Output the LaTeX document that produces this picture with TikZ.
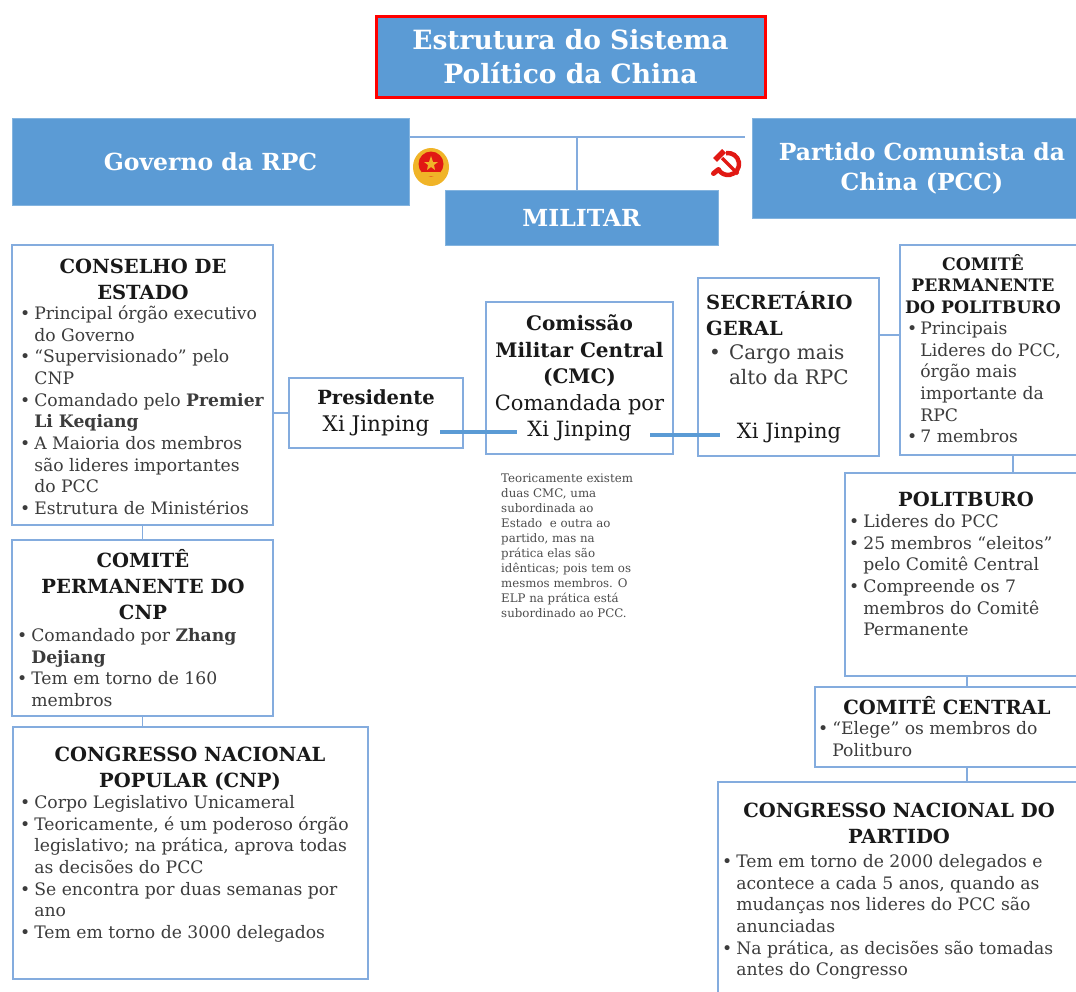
\documentclass[tikz,border=0pt]{standalone}
\usepackage{fontspec}
\setmainfont{DejaVu Serif}
\usetikzlibrary{positioning, calc}
\definecolor{bluecolor}{RGB}{91,155,213}
\definecolor{edgecolor}{RGB}{132,172,222}
\definecolor{flagred}{RGB}{225,25,20}
\definecolor{flaggold}{RGB}{240,180,40}
\definecolor{inkcolor}{RGB}{25,25,25}
\definecolor{bodycolor}{RGB}{60,60,60}

\begin{document}
\begin{tikzpicture}[
    x=1pt, y=-1pt,
    titlebox/.style={draw=red, line width=3pt, fill=bluecolor, text=white, font=\bfseries\fontsize{26.5}{34}\selectfont, align=center},
    headbox/.style={draw=bluecolor!75!white, line width=1pt, fill=bluecolor, text=white, font=\bfseries\fontsize{23.5}{30}\selectfont, align=center},
    panel/.style={draw=edgecolor, line width=1.8pt, fill=white, text=inkcolor, font=\fontsize{21.5}{27}\selectfont, align=center},
    heading/.style={anchor=north, inner sep=0pt, text=inkcolor, font=\bfseries\fontsize{19.5}{26}\selectfont, align=center},
    items/.style={anchor=north west, inner sep=0pt, text=bodycolor, font=\fontsize{17.2}{21.7}\selectfont},
    note/.style={anchor=north west, inner sep=0pt, text=black!70, font=\fontsize{11.8}{15}\selectfont, align=left},
    link/.style={draw=edgecolor, line width=1.5pt},
    bond/.style={draw=bluecolor, line width=3.5pt}
]
    \useasboundingbox (0,0) rectangle (1076,991);

    % Title
    \node[titlebox, minimum width=389pt, minimum height=81pt] (title) at (570.5,56.5) {Estrutura do Sistema\\Político da China};

    % Branches
    \node[headbox, minimum width=397pt, minimum height=87pt] (governo) at (210.5,161.5) {Governo da RPC};
    \node[headbox, minimum width=340pt, minimum height=100pt] (partido) at (922,168) {Partido Comunista da\\China (PCC)};
    \node[headbox, minimum width=273pt, minimum height=55pt] (militar) at (581.5,217.5) {MILITAR};

    % Emblems
    \begin{scope}[shift={(431,167)}, yscale=-1]
        \fill[flaggold] (0,0) ellipse (18 and 19);
        \fill[flagred] (0,3) circle (12.5);
        \fill[flaggold] (0,11) -- (-2,5) -- (-7,5) -- (-3,2) -- (-4,-3) -- (0,0) -- (4,-3) -- (3,2) -- (7,5) -- (2,5) -- cycle;
        \fill[flaggold] (-9,-9) rectangle (9,-5);
    \end{scope}
    \begin{scope}[shift={(728,164)}, yscale=-1]
        \draw[flagred, line width=4.5pt] (100:11) arc[start angle=100, end angle=-150, radius=11];
        \draw[flagred, line width=5pt, line cap=round] (-150:11) -- ++(-5,-4);
        \draw[flagred, line width=3.5pt] (-6,6) -- (10,-10);
        \draw[flagred, line width=5.5pt] (-13,4) -- (-4,13);
    \end{scope}

    % Government
    \node[panel, minimum width=261pt, minimum height=280pt] (conselho) at (142.5,385) {};
    \node[heading] (conselho-head) at (143,259) {CONSELHO DE\\ESTADO};
    \node[items] (conselho-items) at (20,304) {\begin{tabular}{@{}l@{\hspace{4pt}}l@{}}
        • & Principal órgão executivo\\
          & do Governo\\
        • & “Supervisionado” pelo\\
          & CNP\\
        • & Comandado pelo \textbf{Premier}\\
          & \textbf{Li Keqiang}\\
        • & A Maioria dos membros\\
          & são lideres importantes\\
          & do PCC\\
        • & Estrutura de Ministérios
    \end{tabular}};

    \node[panel, minimum width=261pt, minimum height=176pt] (comite-cnp) at (142.5,628) {};
    \node[heading] (comite-cnp-head) at (143,549) {COMITÊ\\PERMANENTE DO\\CNP};
    \node[items] (comite-cnp-items) at (17,626) {\begin{tabular}{@{}l@{\hspace{4pt}}l@{}}
        • & Comandado por \textbf{Zhang}\\
          & \textbf{Dejiang}\\
        • & Tem em torno de 160\\
          & membros
    \end{tabular}};

    \node[panel, minimum width=355pt, minimum height=252pt] (cnp) at (190.5,853) {};
    \node[heading] (cnp-head) at (190,747) {CONGRESSO NACIONAL\\POPULAR (CNP)};
    \node[items] (cnp-items) at (20,793) {\begin{tabular}{@{}l@{\hspace{4pt}}l@{}}
        • & Corpo Legislativo Unicameral\\
        • & Teoricamente, é um poderoso órgão\\
          & legislativo; na prática, aprova todas\\
          & as decisões do PCC\\
        • & Se encontra por duas semanas por\\
          & ano\\
        • & Tem em torno de 3000 delegados
    \end{tabular}};

    \node[panel, minimum width=174pt, minimum height=70pt] (presidente) at (376,413) {\textbf{\fontsize{19.5}{27}\selectfont Presidente}\\Xi Jinping};

    % Military
    \node[panel, minimum width=187pt, minimum height=152pt, font=\fontsize{21}{26.5}\selectfont] (cmc) at (579.5,378) {\textbf{\fontsize{20}{26.5}\selectfont Comissão}\\\textbf{\fontsize{20}{26.5}\selectfont Militar Central}\\\textbf{\fontsize{20}{26.5}\selectfont (CMC)}\\Comandada por\\Xi Jinping};
    \node[note] (cmc-note) at (501,474) {Teoricamente existem\\duas CMC, uma\\subordinada ao\\Estado\ \ e outra ao\\partido, mas na\\prática elas são\\idênticas; pois tem os\\mesmos membros. O\\ELP na prática está\\subordinado ao PCC.};

    % Party
    \node[panel, minimum width=181pt, minimum height=178pt] (secretario) at (788.5,367) {};
    \node[heading, anchor=north west, align=left] (secretario-head) at (706,291) {SECRETÁRIO\\GERAL};
    \node[items, font=\fontsize{20}{25}\selectfont] (secretario-items) at (709,342) {\begin{tabular}{@{}l@{\hspace{8pt}}l@{}}
        • & Cargo mais\\
          & alto da RPC
    \end{tabular}};
    \node[anchor=base, inner sep=0pt, text=inkcolor, font=\fontsize{21}{25}\selectfont] (secretario-xi) at (789,438) {Xi Jinping};

    \node[panel, minimum width=178pt, minimum height=210pt] (comperm) at (989,350) {};
    \node[heading, font=\bfseries\fontsize{17.2}{21.5}\selectfont] (comperm-head) at (983,254) {COMITÊ\\PERMANENTE\\DO POLITBURO};
    \node[items] (comperm-items) at (907,319) {\begin{tabular}{@{}l@{\hspace{3pt}}l@{}}
        • & Principais\\
          & Lideres do PCC,\\
          & órgão mais\\
          & importante da\\
          & RPC\\
        • & 7 membros
    \end{tabular}};

    \node[panel, minimum width=233pt, minimum height=203pt] (politburo) at (961.5,574.5) {};
    \node[heading] (politburo-head) at (966,492) {POLITBURO};
    \node[items] (politburo-items) at (849,512) {\begin{tabular}{@{}l@{\hspace{4pt}}l@{}}
        • & Lideres do PCC\\
        • & 25 membros “eleitos”\\
          & pelo Comitê Central\\
        • & Compreende os 7\\
          & membros do Comitê\\
          & Permanente
    \end{tabular}};

    \node[panel, minimum width=263pt, minimum height=80pt] (comite-central) at (946.5,727) {};
    \node[heading] (comite-central-head) at (947,696) {COMITÊ CENTRAL};
    \node[items] (comite-central-items) at (818,719) {\begin{tabular}{@{}l@{\hspace{4pt}}l@{}}
        • & “Elege” os membros do\\
          & Politburo
    \end{tabular}};

    \node[panel, minimum width=360pt, minimum height=218pt] (congresso) at (898,891) {};
    \node[heading] (congresso-head) at (899,803) {CONGRESSO NACIONAL DO\\PARTIDO};
    \node[items] (congresso-items) at (722,852) {\begin{tabular}{@{}l@{\hspace{4pt}}l@{}}
        • & Tem em torno de 2000 delegados e\\
          & acontece a cada 5 anos, quando as\\
          & mudanças nos lideres do PCC são\\
          & anunciadas\\
        • & Na prática, as decisões são tomadas\\
          & antes do Congresso
    \end{tabular}};

    % Links
    \coordinate (hub) at (577,137);
    \coordinate (pres-xi) at (440,432);
    \coordinate (cmc-xi) at (517,432);
    \coordinate (cmc-out) at (650,435);
    \coordinate (sec-xi) at (720,435);
    \coordinate (sec-link) at (890,335);
    \coordinate (perm-link) at (1013,464);
    \coordinate (cc-link) at (967,680);

    \draw[link, shorten >=7pt] (governo.east |- hub) -- (partido.west |- hub);
    \draw[link] (hub) -- (hub |- militar.north);
    \draw[link] (conselho.east |- presidente.west) -- (presidente.west);
    \draw[link] (conselho.south) -- (comite-cnp.north);
    \draw[link] (comite-cnp.south) -- (comite-cnp.south |- cnp.north);
    \draw[bond] (pres-xi) -- (cmc-xi);
    \draw[bond] (cmc-out) -- (sec-xi);
    \draw[link] (secretario.east |- sec-link) -- (comperm.west |- sec-link);
    \draw[link] (comperm.south -| perm-link) -- (politburo.north -| perm-link);
    \draw[link] (politburo.south -| cc-link) -- (comite-central.north -| cc-link);
    \draw[link] (comite-central.south -| cc-link) -- (congresso.north -| cc-link);
\end{tikzpicture}
\end{document}
